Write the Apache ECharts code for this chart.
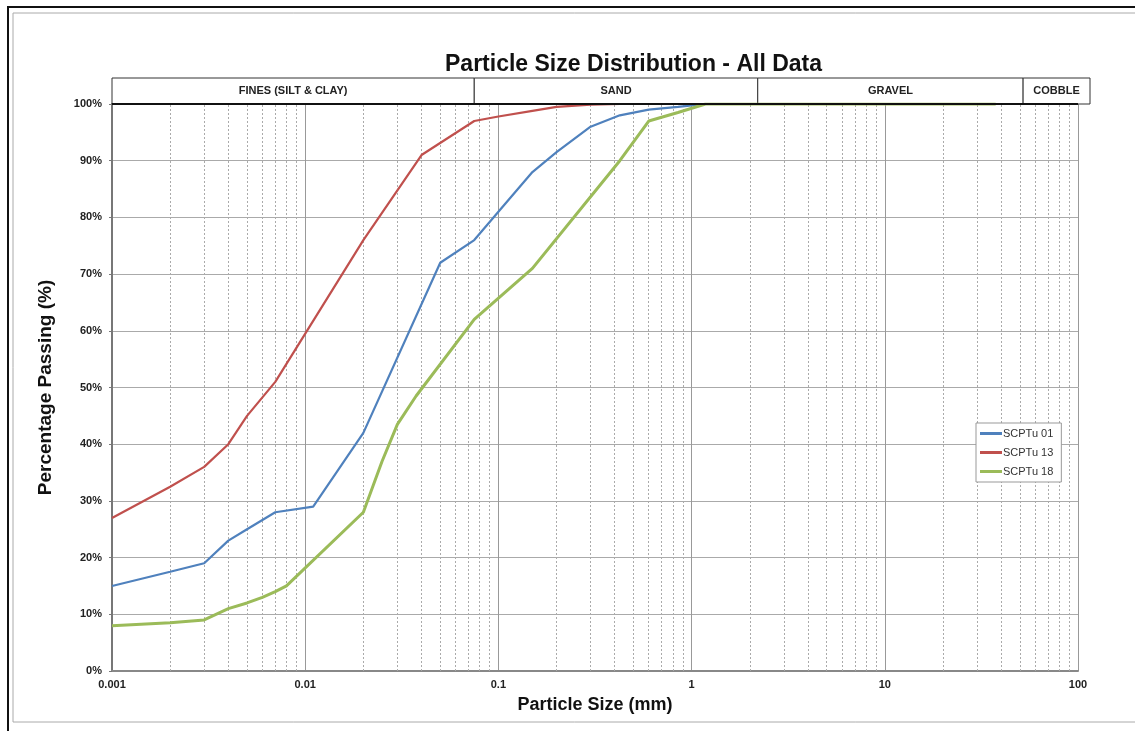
<!DOCTYPE html>
<html>
<head>
<meta charset="utf-8">
<script src="https://cdn.jsdelivr.net/npm/echarts@6/dist/echarts.min.js"></script>
<style>
  html, body { margin: 0; padding: 0; background: #fff; }
  #psd { width: 1135px; height: 731px; }
</style>
</head>
<body>
<div id="psd"></div>
<script>
// grain sizes (mm) and % passing per borehole
var size01 = [0.001, 0.002, 0.003, 0.004, 0.005, 0.007, 0.011, 0.02, 0.05, 0.075, 0.1, 0.15, 0.2, 0.3, 0.425, 0.6, 0.85, 1.18, 2, 4.75, 9.5, 19, 37.5];
var pass01 = [15, 17.5, 19, 23, 25, 28, 29, 42, 72, 76, 81, 88, 91.5, 96, 98, 99, 99.5, 100, 100, 100, 100, 100, 100];

var size13 = [0.001, 0.002, 0.003, 0.004, 0.005, 0.007, 0.02, 0.04, 0.075, 0.1, 0.15, 0.2, 0.3, 0.425, 0.6, 0.85, 1.18, 2, 4.75, 9.5, 19, 37.5];
var pass13 = [27, 32.5, 36, 40, 45, 51, 76, 91, 97, 97.8, 98.8, 99.5, 99.9, 100, 100, 100, 100, 100, 100, 100, 100, 100];

var size18 = [0.001, 0.002, 0.003, 0.004, 0.005, 0.006, 0.007, 0.008, 0.02, 0.025, 0.03, 0.0375, 0.075, 0.15, 0.425, 0.6, 0.85, 1.18, 2, 4.75, 9.5, 19, 37.5];
var pass18 = [8, 8.5, 9, 11, 12, 13, 14, 15, 28, 37, 43.5, 48.5, 62, 71, 90, 97, 98.5, 100, 100, 100, 100, 100, 100];

var seriesNames = ['SCPTu 01', 'SCPTu 13', 'SCPTu 18'];
var seriesColors = ['#4f81bd', '#c0504d', '#9bbb59'];

// soil class bands along the top
var bandNames = ['FINES (SILT & CLAY)', 'SAND', 'GRAVEL', 'COBBLE'];
var bandEdges = [0.001, 0.075, 2.2, 52, 115.4];

// minor log grid lines 2..9 in every decade
var decades = [0.001, 0.01, 0.1, 1, 10];
var minorLines = [];
decades.forEach(function (d) {
  for (var k = 2; k <= 9; k++) minorLines.push(+(d * k).toPrecision(3));
});

function pairs(xs, ys) {
  return xs.map(function (x, i) { return [x, ys[i]]; });
}

var FONT = '"Liberation Sans", Arial, sans-serif';
var myChart = echarts.init(document.getElementById('psd'));

var bandData = [];
for (var i = 0; i < bandNames.length; i++) {
  bandData.push([
    { name: bandNames[i], xAxis: bandEdges[i], yAxis: 0 },
    { xAxis: bandEdges[i + 1], yAxis: 1 }
  ]);
}

myChart.setOption({
  animation: false,
  backgroundColor: '#fff',
  textStyle: { fontFamily: FONT },
  title: {
    text: 'Particle Size Distribution - All Data',
    left: 445,
    top: 53,
    padding: 0,
    textStyle: { fontSize: 23, fontWeight: 'bold', color: '#111', fontFamily: FONT }
  },
  graphic: [
    { type: 'rect', silent: true, shape: { x: 8, y: 7, width: 1150, height: 760 },
      style: { fill: 'none', stroke: '#111', lineWidth: 2 } },
    { type: 'rect', silent: true, shape: { x: 13, y: 13, width: 1150, height: 709 },
      style: { fill: 'none', stroke: '#aaa', lineWidth: 1 } }
  ],
  legend: {
    orient: 'vertical',
    left: 976,
    top: 423,
    padding: [5, 8, 5, 4],
    itemGap: 8,
    itemWidth: 22,
    itemHeight: 3,
    icon: 'rect',
    borderColor: '#999',
    borderWidth: 1,
    backgroundColor: '#fff',
    textStyle: { fontSize: 11, color: '#333', fontFamily: FONT, padding: [0, 0, 0, -4] },
    data: seriesNames
  },
  grid: [
    { left: 112, right: 57, top: 104, bottom: 60 },
    { left: 112, right: 45, top: 78, height: 26 }
  ],
  xAxis: [
    {
      type: 'log',
      gridIndex: 0,
      logBase: 10,
      min: 0.001,
      max: 100,
      name: 'Particle Size (mm)',
      nameLocation: 'middle',
      nameGap: 25,
      nameTextStyle: { fontSize: 18, fontWeight: 'bold', color: '#111', fontFamily: FONT },
      axisLine: { show: true, onZero: false, lineStyle: { color: '#888', width: 2 } },
      axisTick: { show: false },
      axisLabel: {
        fontSize: 11, fontWeight: 'bold', color: '#222', margin: 8,
        formatter: function (v) { return String(+v.toPrecision(3)); }
      },
      splitLine: { show: true, lineStyle: { color: '#999', width: 1 } }
    },
    {
      type: 'log',
      gridIndex: 1,
      logBase: 10,
      min: 0.001,
      max: 115.4,
      show: false
    }
  ],
  yAxis: [
    {
      type: 'value',
      gridIndex: 0,
      min: 0,
      max: 100,
      interval: 10,
      name: 'Percentage Passing (%)',
      nameLocation: 'middle',
      nameGap: 57,
      nameTextStyle: { fontSize: 19, fontWeight: 'bold', color: '#111', fontFamily: FONT },
      axisLine: { show: true, lineStyle: { color: '#777', width: 2 } },
      axisTick: { show: true, length: 3, lineStyle: { color: '#777' } },
      axisLabel: {
        fontSize: 11, fontWeight: 'bold', color: '#222', margin: 10,
        formatter: '{value}%'
      },
      splitLine: { show: true, lineStyle: { color: '#aaa', width: 1 } }
    },
    { type: 'value', gridIndex: 1, min: 0, max: 1, show: false }
  ],
  series: [
    {
      name: 'minor',
      type: 'lines',
      coordinateSystem: 'cartesian2d',
      xAxisIndex: 0,
      yAxisIndex: 0,
      silent: true,
      z: 1,
      lineStyle: { color: '#aaa', width: 1, type: [2, 2], opacity: 1 },
      data: minorLines.map(function (v) { return { coords: [[v, 0], [v, 100]] }; })
    },
    {
      name: 'top',
      type: 'line',
      xAxisIndex: 0,
      yAxisIndex: 0,
      data: [],
      silent: true,
      markLine: {
        silent: true,
        symbol: 'none',
        label: { show: false },
        lineStyle: { color: '#111', width: 2, type: 'solid' },
        data: [{ yAxis: 100 }]
      }
    },
    {
      name: 'bands',
      type: 'line',
      xAxisIndex: 1,
      yAxisIndex: 1,
      data: [[0.001, 0]],
      showSymbol: false,
      lineStyle: { width: 0 },
      silent: true,
      markArea: {
        silent: true,
        itemStyle: { color: '#fff', borderColor: '#333', borderWidth: 1 },
        label: {
          show: true,
          position: 'inside',
          fontSize: 11,
          fontWeight: 'bold',
          color: '#222',
          fontFamily: FONT
        },
        data: bandData
      }
    },
    {
      name: seriesNames[0],
      type: 'line',
      data: pairs(size01, pass01),
      showSymbol: false,
      color: seriesColors[0],
      lineStyle: { width: 2.2 },
      z: 3
    },
    {
      name: seriesNames[1],
      type: 'line',
      data: pairs(size13, pass13),
      showSymbol: false,
      color: seriesColors[1],
      lineStyle: { width: 2.2 },
      z: 3
    },
    {
      name: seriesNames[2],
      type: 'line',
      data: pairs(size18, pass18),
      showSymbol: false,
      color: seriesColors[2],
      lineStyle: { width: 3 },
      z: 3
    }
  ]
});
</script>
</body>
</html>
